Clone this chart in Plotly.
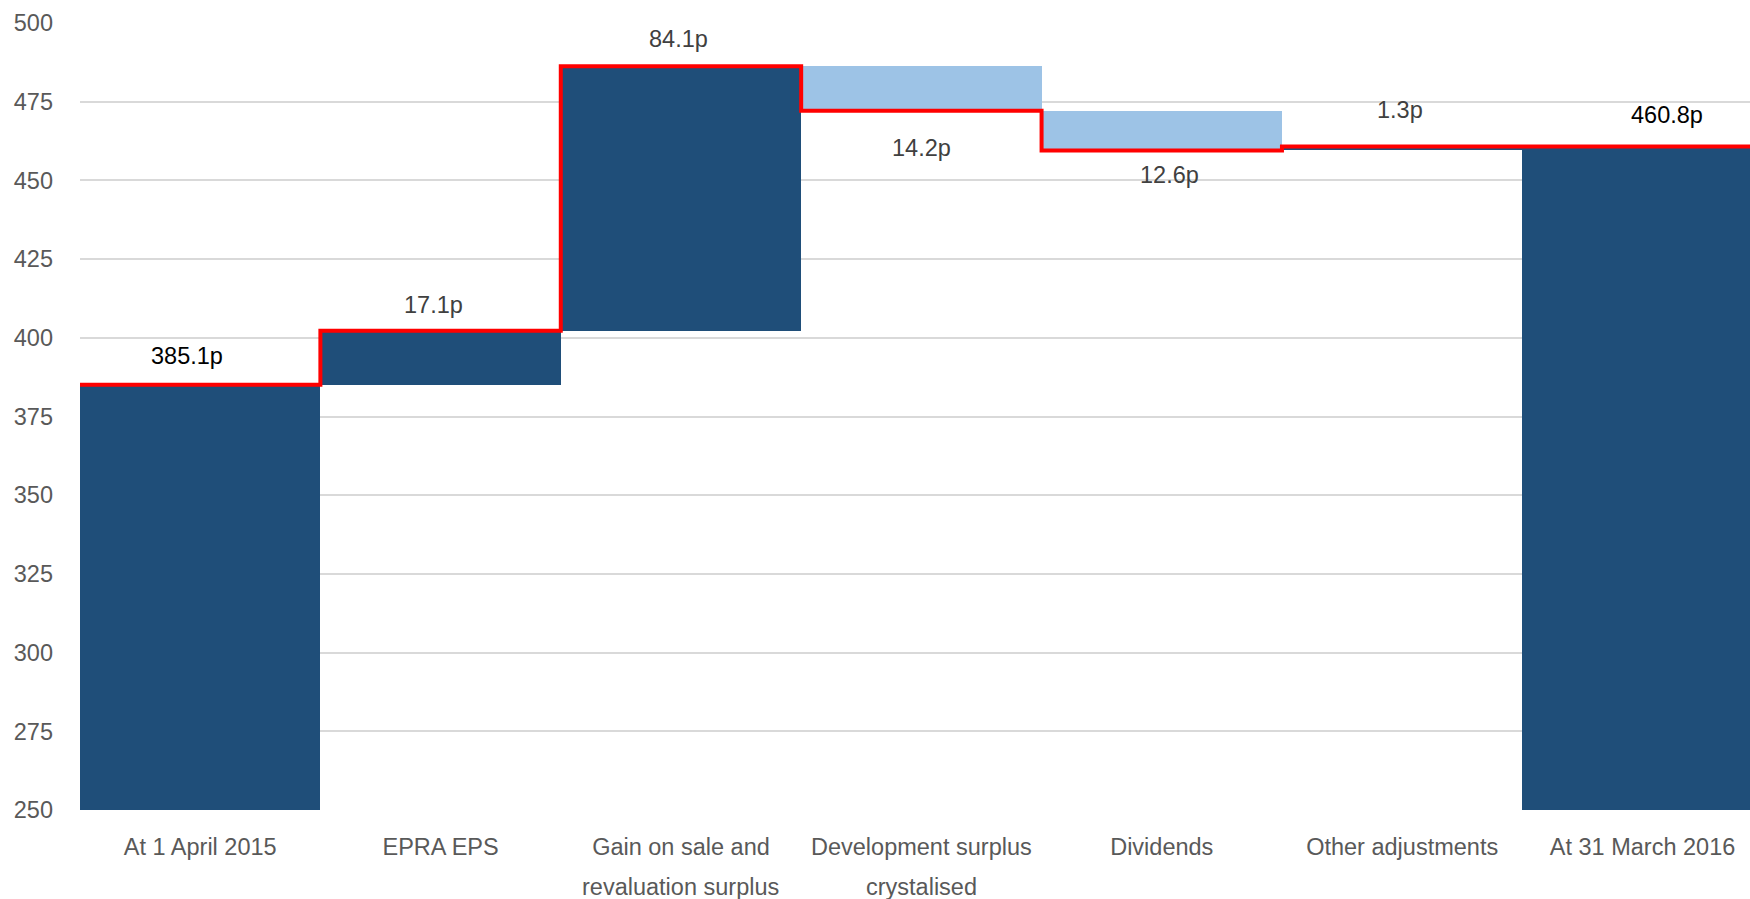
import plotly.graph_objects as go

# NAV per share bridge (pence)
categories = [
    "At 1 April 2015",
    "EPRA EPS",
    "Gain on sale and",
    "Development surplus",
    "Dividends",
    "Other adjustments",
    "At 31 March 2016",
]
category_second_lines = ["", "", "revaluation surplus", "crystalised", "", "", ""]
changes = [385.1, 17.1, 84.1, -14.2, -12.6, 1.3, 460.8]
measures = ["total", "relative", "relative", "relative", "relative", "relative", "total"]
value_labels = ["385.1p", "17.1p", "84.1p", "14.2p", "12.6p", "1.3p", "460.8p"]
y_ticks = [250, 275, 300, 325, 350, 375, 400, 425, 450, 475, 500]

NAVY = "#1F4E79"
LIGHT = "#9DC3E6"
RED = "#FF0000"
FONT = "Liberation Sans, Arial, sans-serif"
FS = 23.5

# running totals -> bar bases/heights
bases, heights, colors, levels = [], [], [], []
level = 0.0
for d, m in zip(changes, measures):
    if m == "total":
        bases.append(0.0)
        heights.append(d)
        colors.append(NAVY)
        level = d
    else:
        bases.append(min(level, level + d))
        heights.append(abs(d))
        colors.append(NAVY if d >= 0 else LIGHT)
        level = level + d
    levels.append(round(level, 1))

xs = list(range(len(categories)))

fig = go.Figure()
fig.add_trace(go.Bar(
    x=xs, y=heights, base=bases, marker=dict(color=colors, line=dict(width=0)),
    width=1.0, showlegend=False, hoverinfo="skip",
))

# red step line along the running total
step_x = [i - 0.5 for i in range(len(categories) + 1)]
step_y = levels + [levels[-1]]
fig.add_trace(go.Scatter(
    x=step_x, y=step_y, mode="lines", line=dict(color=RED, width=4, shape="hv"),
    showlegend=False, hoverinfo="skip",
))

# value labels: above for increases/totals, below for decreases
label_offsets = [29, 26, 27, -37, -25, 36, 31]
label_xshift = [-13, -7, -2, 0, 8, -2, 24]
label_colors = ["#000000", "#404040", "#404040", "#404040", "#404040", "#404040", "#000000"]
for i, (txt, d, m) in enumerate(zip(value_labels, changes, measures)):
    if m == "total":
        anchor_y = bases[i] + heights[i]
    elif d >= 0:
        anchor_y = bases[i] + heights[i]
    else:
        anchor_y = bases[i]
    fig.add_annotation(
        x=xs[i], y=anchor_y, text=txt, showarrow=False,
        yanchor="middle", xanchor="center",
        yshift=label_offsets[i], xshift=label_xshift[i],
        font=dict(family=FONT, size=FS, color=label_colors[i]),
    )

# second lines of the two-line category names
for i, second in enumerate(category_second_lines):
    if second:
        fig.add_annotation(
            x=xs[i], y=0, yref="paper", text=second, showarrow=False,
            yanchor="middle", xanchor="center", yshift=-77,
            font=dict(family=FONT, size=FS, color="#595959"),
        )

fig.update_layout(
    width=1750, height=899,
    margin=dict(l=80, r=0, t=23, b=89),
    paper_bgcolor="white", plot_bgcolor="white",
    bargap=0,
    font=dict(family=FONT, size=FS, color="#595959"),
    xaxis=dict(
        tickmode="array", tickvals=xs, ticktext=categories,
        range=[-0.5, 6.447], showgrid=False, zeroline=False, showline=False,
        ticks="", ticklabelstandoff=20,
        tickfont=dict(family=FONT, size=FS, color="#595959"),
    ),
    yaxis=dict(
        range=[250, 500], tickmode="array", tickvals=y_ticks,
        showgrid=True, gridcolor="#D9D9D9", gridwidth=2,
        zeroline=False, showline=False, ticks="", ticklabelstandoff=26,
        tickfont=dict(family=FONT, size=FS, color="#595959"),
    ),
)

fig.write_html("out.html")
